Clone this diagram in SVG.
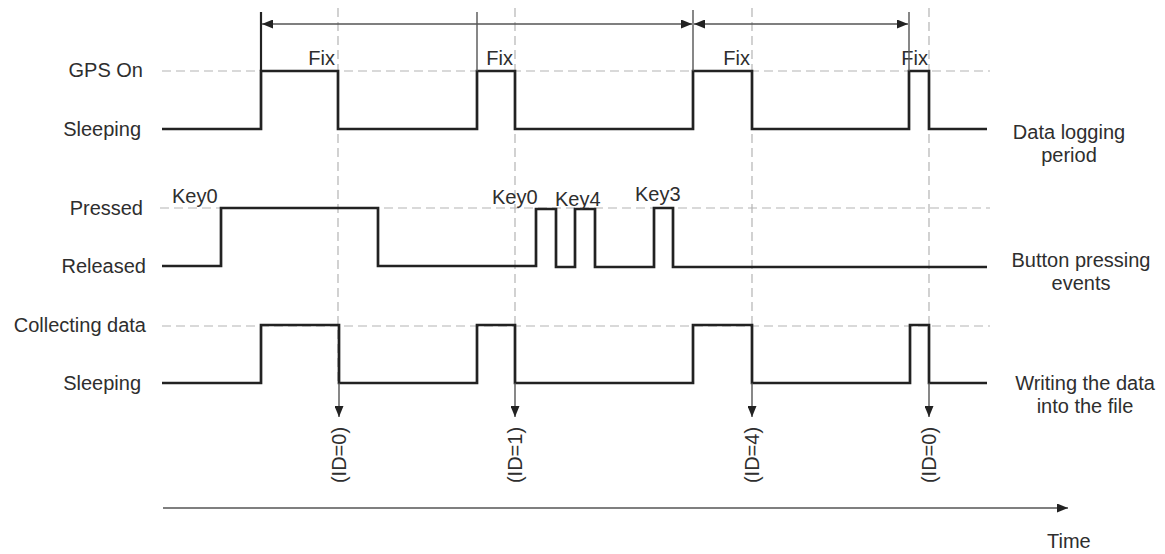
<svg xmlns="http://www.w3.org/2000/svg" width="1165" height="554" viewBox="0 0 1165 554">
<style>
text{font-family:"Liberation Sans",Arial,sans-serif;font-size:20px;fill:#2e2e2e}
.lbl{text-anchor:end}
.mid{text-anchor:middle}
.wave{fill:none;stroke:#222;stroke-width:2.7;stroke-linejoin:miter}
.dash{fill:none;stroke:#b4b4b4;stroke-width:1.2;stroke-dasharray:9 5}
.thin{fill:none;stroke:#555;stroke-width:1.4}
</style>
<defs>
<marker id="ah" viewBox="0 0 11 9" refX="11" refY="4.5" markerWidth="11" markerHeight="9" markerUnits="userSpaceOnUse" orient="auto-start-reverse">
<path d="M0,0 L11,4.5 L0,9 z" fill="#222"/>
</marker>
</defs>
<rect width="1165" height="554" fill="#fff"/>

<g id="grid">
<path class="dash" d="M162,71 H990 M160,208 H990 M162,326 H990"/>
<path class="dash" d="M338,8 V383 M515,8 V383 M752,8 V383 M929,8 V383"/>
</g>

<g id="row-labels">
<text class="lbl" x="143" y="77">GPS On</text>
<text class="lbl" x="141" y="136">Sleeping</text>
<text class="lbl" x="143" y="215">Pressed</text>
<text class="lbl" x="146" y="273">Released</text>
<text class="lbl" x="146" y="332">Collecting data</text>
<text class="lbl" x="141" y="390">Sleeping</text>
</g>

<g id="gps-wave">
<path class="wave" d="M162,129 H261 V71 H338 V129 H477 V71 H515 V129 H693 V71 H752 V129 H909 V71 H929 V129 H987"/>
<text class="lbl" x="335" y="65">Fix</text>
<text class="lbl" x="513" y="65">Fix</text>
<text class="lbl" x="750" y="65">Fix</text>
<text class="lbl" x="928" y="65">Fix</text>
</g>

<g id="button-wave">
<path class="wave" d="M162,266 H221 V208 H378 V266 H536 V209 H556 V267 H575 V209 H595 V267 H654 V208 H673 V267 H987"/>
<text x="172" y="203">Key0</text>
<text x="492" y="204">Key0</text>
<text x="555" y="206">Key4</text>
<text x="635" y="201">Key3</text>
</g>

<g id="collect-wave">
<path class="wave" d="M162,383 H261 V325 H339 V383 H477 V325 H515 V383 H693 V325 H752 V383 H910 V325 H929 V383 H987"/>
</g>

<g id="connectors">
<path d="M261,12 V71" fill="none" stroke="#222" stroke-width="2.2"/>
<path class="thin" d="M477,12 V71 M693,10 V71 M909,12 V71"/>
<line class="thin" x1="262" y1="24" x2="692" y2="24" marker-start="url(#ah)" marker-end="url(#ah)"/>
<line class="thin" x1="694" y1="24" x2="908" y2="24" marker-start="url(#ah)" marker-end="url(#ah)"/>
<line class="thin" x1="339" y1="383" x2="339" y2="417" marker-end="url(#ah)"/>
<line class="thin" x1="515" y1="383" x2="515" y2="417" marker-end="url(#ah)"/>
<line class="thin" x1="752" y1="383" x2="752" y2="417" marker-end="url(#ah)"/>
<line class="thin" x1="929" y1="383" x2="929" y2="417" marker-end="url(#ah)"/>
<line class="thin" x1="163" y1="508" x2="1068" y2="508" marker-end="url(#ah)"/>
</g>

<g id="ids">
<text class="mid" transform="translate(346,455) rotate(-90)">(ID=0)</text>
<text class="mid" transform="translate(522,455) rotate(-90)">(ID=1)</text>
<text class="mid" transform="translate(759,455) rotate(-90)">(ID=4)</text>
<text class="mid" transform="translate(936,455) rotate(-90)">(ID=0)</text>
</g>

<g id="right-labels">
<text class="mid" x="1069" y="139">Data logging</text>
<text class="mid" x="1069" y="162">period</text>
<text class="mid" x="1081" y="267">Button pressing</text>
<text class="mid" x="1081" y="290">events</text>
<text class="mid" x="1085" y="390">Writing the data</text>
<text class="mid" x="1085" y="413">into the file</text>
<text x="1047" y="548">Time</text>
</g>
</svg>
